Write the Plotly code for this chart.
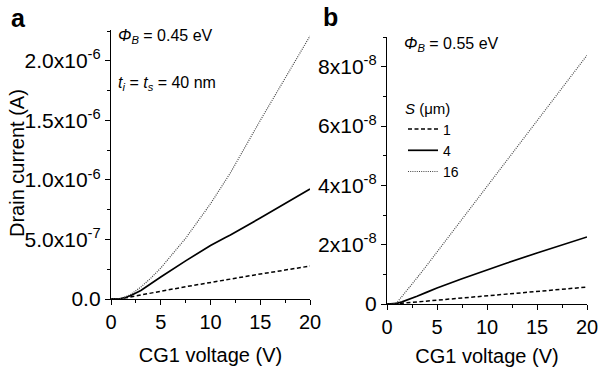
import plotly.graph_objects as go
from plotly.subplots import make_subplots

# ---- data ----
voltage = [0, 0.5, 1, 1.5, 2, 3, 4, 5, 7.5, 10, 11.5, 12, 15, 17.5, 20]
series_names = ["1", "4", "16"]

# panel a (A), phi_B = 0.45 eV
a_s1 = [0, 0, 0.004, 0.01, 0.017, 0.031, 0.048, 0.065, 0.103, 0.14, 0.161, 0.168, 0.21, 0.243, 0.277]
a_s4 = [0, 0, 0.004, 0.015, 0.03, 0.072, 0.125, 0.185, 0.32, 0.45, 0.516, 0.538, 0.68, 0.802, 0.924]
a_s16 = [0, 0, 0.005, 0.02, 0.04, 0.1, 0.175, 0.26, 0.51, 0.8, 0.995, 1.06, 1.5, 1.86, 2.21]
a_scale = 1e-6

# panel b (A), phi_B = 0.55 eV
b_s1 = [0, 0, 0.01, 0.025, 0.04, 0.07, 0.1, 0.13, 0.205, 0.28, 0.325, 0.34, 0.43, 0.5, 0.57]
b_s4 = [0, 0, 0.02, 0.07, 0.13, 0.26, 0.4, 0.54, 0.85, 1.15, 1.33, 1.38, 1.72, 1.99, 2.26]
b_s16 = [0, 0, 0.05, 0.25, 0.45, 0.88, 1.31, 1.75, 2.85, 3.95, 4.61, 4.83, 6.15, 7.27, 8.38]
b_scale = 1e-8

a_tickvals = [0, 0.5e-6, 1.0e-6, 1.5e-6, 2.0e-6]
a_ticktext = ["0.0", "5.0x10<sup>-7</sup>", "1.0x10<sup>-6</sup>", "1.5x10<sup>-6</sup>", "2.0x10<sup>-6</sup>"]
b_tickvals = [0, 2e-8, 4e-8, 6e-8, 8e-8]
b_ticktext = ["0", "2x10<sup>-8</sup>", "4x10<sup>-8</sup>", "6x10<sup>-8</sup>", "8x10<sup>-8</sup>"]
x_tickvals = [0, 5, 10, 15, 20]

FONT = "Liberation Sans, Arial, sans-serif"
styles = [
    dict(color="black", width=1.5, dash="4px,2.5px"),
    dict(color="black", width=1.7),
    dict(color="#444", width=1.2, dash="1px,1.2px"),
]

fig = make_subplots(rows=1, cols=2)

for vals, st, nm in zip([a_s1, a_s4, a_s16], styles, series_names):
    fig.add_trace(go.Scatter(x=voltage, y=[v * a_scale for v in vals], mode="lines",
                             line=st, name=nm, showlegend=False), row=1, col=1)
for vals, st, nm in zip([b_s1, b_s4, b_s16], styles, series_names):
    fig.add_trace(go.Scatter(x=voltage, y=[v * b_scale for v in vals], mode="lines",
                             line=st, name=nm, showlegend=True), row=1, col=2)

W, H = 598, 367
def px(x):
    return x / W
def py(y):
    return 1 - y / H

axis_common = dict(showline=True, linecolor="black", linewidth=1.3, ticks="outside",
                   ticklen=5, tickwidth=1, tickcolor="black", showgrid=False, zeroline=False,
                   mirror=False, automargin=False, ticklabeloverflow="allow")

fig.update_xaxes(**axis_common, range=[0, 20], tickvals=x_tickvals,
                 tickfont=dict(family=FONT, size=20, color="black"),
                 minor=dict(ticks="outside", ticklen=3, tickcolor="black", dtick=2.5, tick0=0),
                 title=dict(text="CG1 voltage (V)", font=dict(family=FONT, size=20, color="black"),
                            standoff=15))
fig.update_xaxes(domain=[px(111), px(310)], row=1, col=1)
fig.update_xaxes(domain=[px(387), px(587)], row=1, col=2)

fig.update_yaxes(**axis_common, tickfont=dict(family=FONT, size=21, color="black"))
fig.update_yaxes(domain=[py(299), py(30)], range=[0, 2.26e-6], tickvals=a_tickvals, ticktext=a_ticktext,
                 minor=dict(ticks="outside", ticklen=3, tickcolor="black", dtick=0.25e-6, tick0=0),
                 row=1, col=1)
fig.update_yaxes(domain=[py(304), py(37)], range=[0, 9.0e-8], tickvals=b_tickvals, ticktext=b_ticktext,
                 minor=dict(ticks="outside", ticklen=3, tickcolor="black", dtick=1e-8, tick0=0),
                 row=1, col=2)

ann_font = dict(family=FONT, size=16, color="black")
annotations = [
    dict(text="<b>a</b>", x=px(18), y=py(18), font=dict(family=FONT, size=25, color="black")),
    dict(text="<b>b</b>", x=px(330), y=py(17), font=dict(family=FONT, size=25, color="black")),
    dict(text="Drain current (A)", x=px(17), y=py(163), textangle=-90,
         font=dict(family=FONT, size=20, color="black")),
    dict(text="<i>Φ</i><sub><i>B</i></sub> = 0.45 eV", x=px(116), y=py(36), xanchor="left", font=ann_font),
    dict(text="<i>t</i><sub><i>i</i></sub> = <i>t</i><sub><i>s</i></sub> = 40 nm", x=px(116), y=py(83),
         xanchor="left", font=ann_font),
    dict(text="<i>Φ</i><sub><i>B</i></sub> = 0.55 eV", x=px(402), y=py(44), xanchor="left", font=ann_font),
]
for a in annotations:
    a.setdefault("xanchor", "center")
    fig.add_annotation(xref="paper", yref="paper", showarrow=False, yanchor="middle", **a)

fig.update_layout(
    width=W, height=H, margin=dict(l=0, r=0, t=0, b=0, autoexpand=False),
    paper_bgcolor="white", plot_bgcolor="white", hovermode=False,
    font=dict(family=FONT, color="black"),
    legend=dict(x=px(403), y=py(94), xanchor="left", yanchor="top",
                title=dict(text="<i>S</i> (μm)", font=dict(family=FONT, size=15, color="black")),
                font=dict(family=FONT, size=14, color="black"), itemwidth=30,
                bgcolor="rgba(0,0,0,0)", tracegroupgap=0),
)

# remove the default 8px page margin so the 598x367 figure fills the window exactly
fig.write_html("out.html", config={"displayModeBar": False},
               post_script="document.body.style.margin='0';document.body.style.overflow='hidden';")
